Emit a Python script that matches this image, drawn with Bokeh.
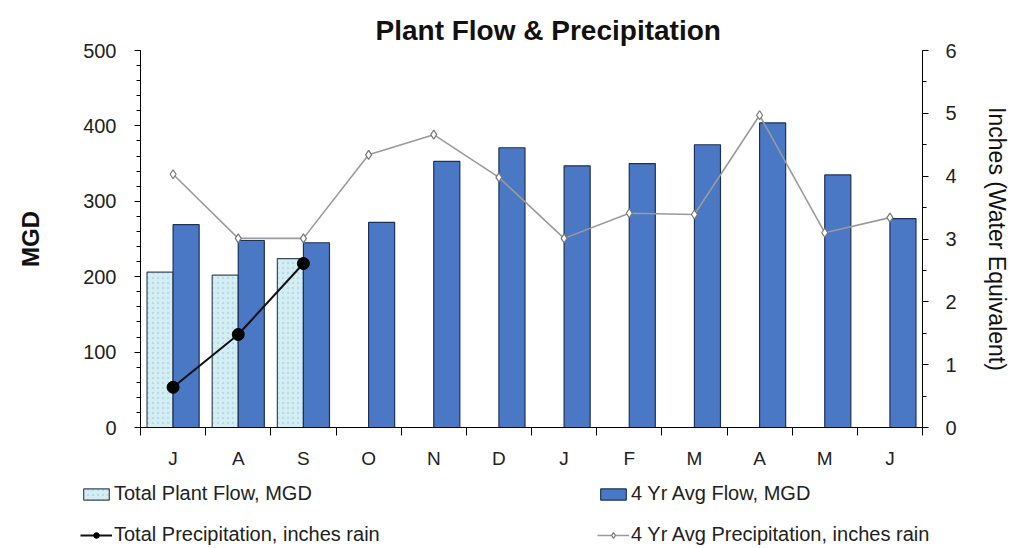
from bokeh.plotting import figure
from bokeh.models import (Range1d, LinearAxis, FixedTicker, Legend, LegendItem,
                          ColumnDataSource)
from bokeh.layouts import column, row
from bokeh.embed import file_html
from bokeh.resources import INLINE
import numpy as np

months = ["J", "A", "S", "O", "N", "D", "J", "F", "M", "A", "M", "J"]
total_flow = [206, 202, 224]
avg_flow = [269, 248, 245, 272, 353, 371, 347, 350, 375, 404, 335, 277]
total_precip = [0.64, 1.48, 2.61]
avg_precip = [4.03, 3.01, 3.01, 4.34, 4.66, 3.98, 3.01, 3.41, 3.39, 4.97, 3.10, 3.34]

FONT = "Liberation Sans"
xc = np.arange(len(months)) + 0.5

LIGHT = dict(fill_color="#d4eef4", line_color="#3a4a55", line_width=1.2,
             hatch_pattern="dot", hatch_color="#a9d4de", hatch_scale=5, hatch_alpha=0.7)
DARK = dict(fill_color="#4a78c4", line_color="#1e3258", line_width=1.2)
AVG_LINE = dict(line_color="#9a9a9a", line_width=1.6)
AVG_MARK = dict(marker="diamond", size=9, fill_color="white", line_color="#777777", line_width=1.2)
TOT_LINE = dict(line_color="#111111", line_width=2)
TOT_MARK = dict(marker="circle", size=12, fill_color="black", line_color="black")

src_t = ColumnDataSource(dict(x=xc[:len(total_flow)] - 0.2, top=total_flow))
src_a = ColumnDataSource(dict(x=xc + 0.2, top=avg_flow))
src_ap = ColumnDataSource(dict(x=xc, y=avg_precip))
src_tp = ColumnDataSource(dict(x=xc[:len(total_precip)], y=total_precip))

p = figure(width=1013, height=478, output_backend="svg", toolbar_location=None,
           x_range=Range1d(0, 12), y_range=Range1d(0, 500),
           min_border_left=140, min_border_right=91, min_border_top=50,
           min_border_bottom=51)
p.extra_y_ranges = {"precip": Range1d(0, 6)}

p.title.text = "Plant Flow & Precipitation"
p.title.text_font = FONT
p.title.text_font_size = "28px"
p.title.text_font_style = "bold"
p.title.align = "left"
p.title.offset = 235
p.title.text_color = "#111111"

p.grid.visible = False
p.outline_line_color = None

# x axis
xa = p.xaxis[0]
xa.ticker = FixedTicker(ticks=list(xc), minor_ticks=list(range(13)))
xa.major_label_overrides = {float(x): m for x, m in zip(xc, months)}
xa.major_tick_in = 0
xa.major_tick_out = 0
xa.minor_tick_in = 0
xa.minor_tick_out = 8
xa.axis_line_color = "black"
xa.minor_tick_line_color = "black"
xa.major_label_text_font = FONT
xa.major_label_text_font_size = "19px"
xa.major_label_text_color = "#222222"
xa.major_label_standoff = 12

# left axis
ya = p.yaxis[0]
ya.ticker = FixedTicker(ticks=list(range(0, 501, 100)), minor_ticks=list(range(0, 501, 20)))
ya.major_tick_in = 0
ya.major_tick_out = 6
ya.minor_tick_in = 0
ya.minor_tick_out = 4
ya.axis_line_color = "black"
ya.major_label_text_font = FONT
ya.major_label_text_font_size = "20px"
ya.major_label_text_color = "#222222"
ya.major_label_standoff = 18
ya.axis_label = "MGD"
ya.axis_label_text_font = FONT
ya.axis_label_text_font_size = "24px"
ya.axis_label_text_font_style = "bold"
ya.axis_label_text_color = "#111111"
ya.axis_label_standoff = 36

# right axis
ra = LinearAxis(y_range_name="precip",
                ticker=FixedTicker(ticks=list(range(0, 7)),
                                   minor_ticks=[i * 0.5 for i in range(13)]))
ra.major_tick_in = 0
ra.major_tick_out = 6
ra.minor_tick_in = 0
ra.minor_tick_out = 4
ra.axis_line_color = "black"
ra.major_label_text_font = FONT
ra.major_label_text_font_size = "20px"
ra.major_label_text_color = "#222222"
ra.major_label_standoff = 17
ra.axis_label = "Inches (Water Equivalent)"
ra.axis_label_text_font = FONT
ra.axis_label_text_font_size = "23px"
ra.axis_label_text_font_style = "normal"
ra.axis_label_text_color = "#111111"
ra.axis_label_standoff = 24
p.add_layout(ra, "right")

# bars and lines
p.vbar(x="x", top="top", width=0.4, source=src_t, **LIGHT)
p.vbar(x="x", top="top", width=0.4, source=src_a, **DARK)
p.line("x", "y", source=src_ap, y_range_name="precip", **AVG_LINE)
p.scatter("x", "y", source=src_ap, y_range_name="precip", **AVG_MARK)
p.line("x", "y", source=src_tp, y_range_name="precip", **TOT_LINE)
p.scatter("x", "y", source=src_tp, y_range_name="precip", **TOT_MARK)

# legend strip: same series, kept out of view, used only for the legend swatches
lf = figure(width=1013, height=70, output_backend="svg", toolbar_location=None,
            x_range=Range1d(1000, 1001), y_range=Range1d(1000, 1001),
            x_axis_location=None, y_axis_location=None,
            min_border=0)
lf.grid.visible = False
lf.outline_line_color = None
r1 = lf.vbar(x="x", top="top", width=0.4, source=src_t, **LIGHT)
r2 = lf.vbar(x="x", top="top", width=0.4, source=src_a, **DARK)
r3l = lf.line("x", "y", source=src_tp, **TOT_LINE)
r3m = lf.scatter("x", "y", source=src_tp, **TOT_MARK)
r4l = lf.line("x", "y", source=src_ap, **AVG_LINE)
r4m = lf.scatter("x", "y", source=src_ap, **AVG_MARK)

legend = Legend(items=[
    LegendItem(label="Total Plant Flow, MGD", renderers=[r1]),
    LegendItem(label="Total Precipitation, inches rain", renderers=[r3l, r3m]),
    LegendItem(label="4 Yr Avg Flow, MGD", renderers=[r2]),
    LegendItem(label="4 Yr Avg Precipitation, inches rain", renderers=[r4l, r4m]),
], ncols=2, location=(80, 2))
legend.label_text_font = FONT
legend.label_text_font_size = "20px"
legend.label_text_color = "#222222"
legend.glyph_width = 32
legend.glyph_height = 14
legend.label_height = 20
legend.label_standoff = 2
legend.spacing = 18
legend.label_width = 465
legend.border_line_color = None
legend.background_fill_alpha = 0
legend.padding = 0
legend.margin = 0
lf.add_layout(legend, "center")

layout = column(p, row(lf), spacing=0)
open("out.html", "w").write(file_html(layout, INLINE))
